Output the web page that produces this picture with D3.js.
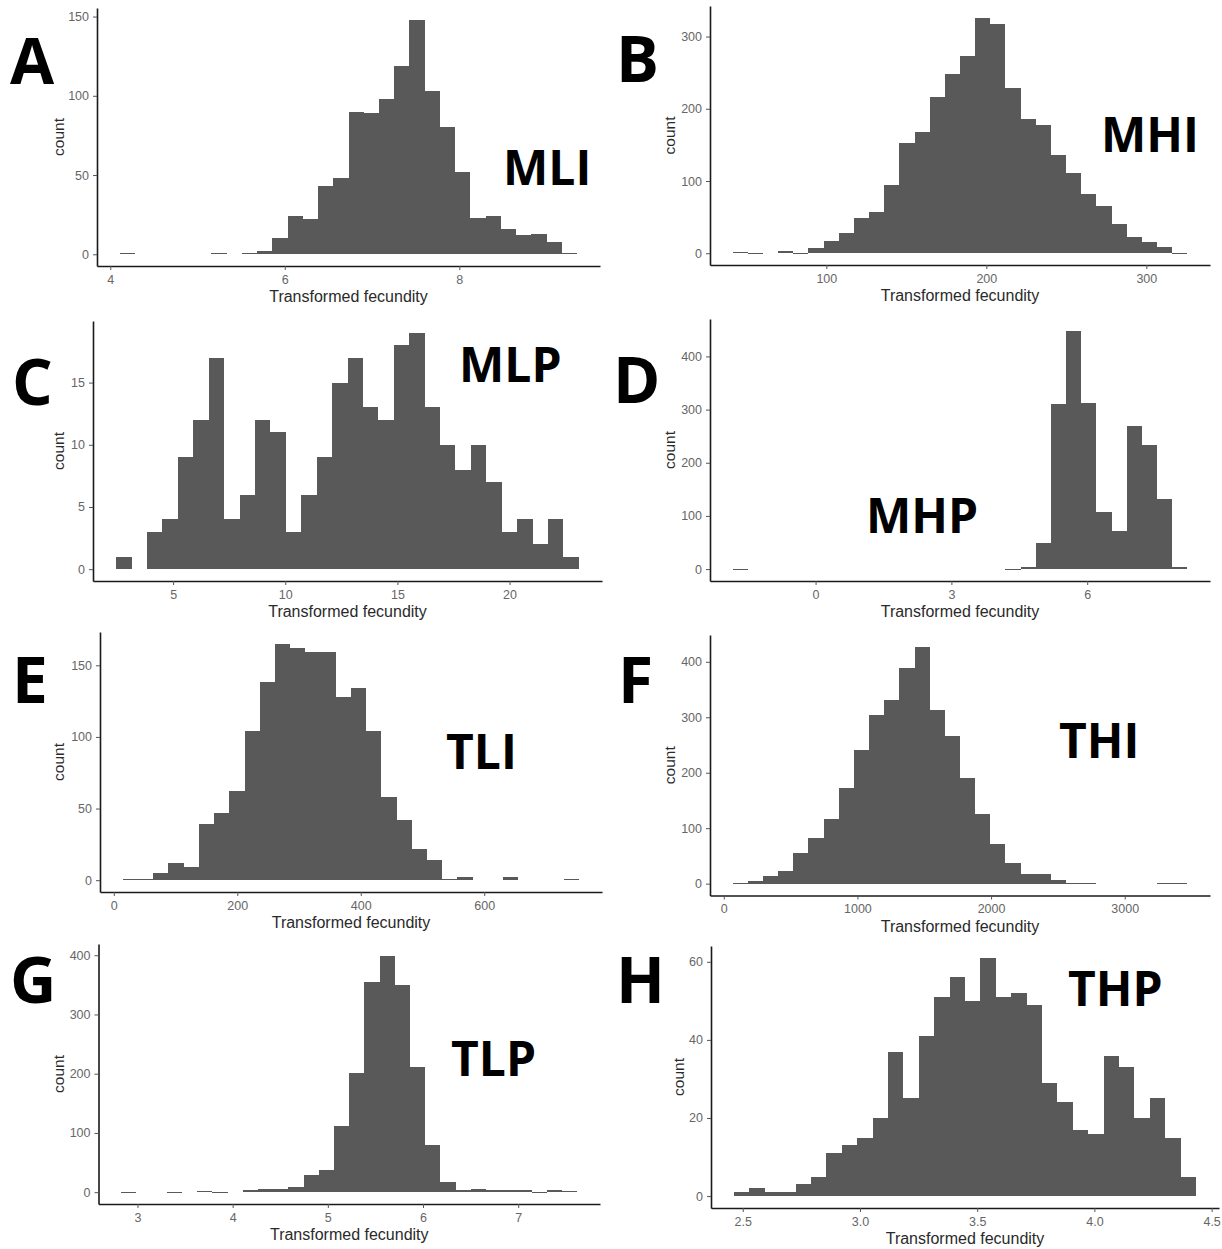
<!DOCTYPE html>
<html><head><meta charset="utf-8">
<script src="https://cdn.jsdelivr.net/npm/d3@7"></script>
<style>body{margin:0;background:#fff;} svg{display:block;}</style>
</head><body>
<svg id="chart" width="1222" height="1249"></svg>
<script>
// ---------- data ----------
const panelLetters = ["A","B","C","D","E","F","G","H"];
const panelNames = ["MLI","MHI","MLP","MHP","TLI","THI","TLP","THP"];
const xTitle = "Transformed fecundity";
const yTitle = "count";

const rangeA = [4.11, 9.35];
const countsA = [1,0,0,0,0,0,1,0,1,2,10,24,22,43,48,90,89,98,119,148,103,80,52,23,24,16,12,13,8,1];
const xTicksA = [4,6,8];
const yTicksA = [0,50,100,150];

const rangeB = [41.5, 325.6];
const countsB = [2,1,0,3,1,7,17,28,49,57,95,153,168,216,248,273,326,318,229,186,177,136,111,82,65,40,22,15,8,1];
const xTicksB = [100,200,300];
const yTicksB = [0,100,200,300];

const rangeC = [2.46, 23.09];
const countsC = [1,0,3,4,9,12,17,4,6,12,11,3,6,9,15,17,13,12,18,19,13,10,8,10,7,3,4,2,4,1];
const xTicksC = [5,10,15,20];
const yTicksC = [0,5,10,15];

const rangeD = [-1.83, 8.21];
const countsD = [1,0,0,0,0,0,0,0,0,0,0,0,0,0,0,0,0,0,1,4,50,310,448,312,107,72,270,234,131,4];
const xTicksD = [0,3,6];
const yTicksD = [0,100,200,300,400];

const rangeE = [14.6, 753.8];
const countsE = [1,1,5,12,9,39,47,62,104,138,165,162,159,159,128,134,104,58,42,22,14,1,2,0,0,2,0,0,0,1];
const xTicksE = [0,200,400,600];
const yTicksE = [0,50,100,150];

const rangeF = [67, 3468];
const countsF = [1,4,14,22,56,82,116,172,241,304,332,389,427,314,267,191,126,71,38,18,18,6,2,1,0,0,0,0,1,1];
const xTicksF = [0,1000,2000,3000];
const yTicksF = [0,100,200,300,400];

const rangeG = [2.83, 7.62];
const countsG = [1,0,0,1,0,2,1,0,3,5,5,8,29,38,111,201,355,399,350,211,79,17,3,5,4,3,3,1,4,2];
const xTicksG = [3,4,5,6,7];
const yTicksG = [0,100,200,300,400];

const rangeH = [2.463, 4.433];
const countsH = [1,2,1,1,3,5,11,13,15,20,37,25,41,51,56,50,61,51,52,49,29,24,17,16,36,33,20,25,15,5];
const xTicksH = [2.5,3.0,3.5,4.0,4.5];
const yTicksH = [0,20,40,60];

const ranges = [rangeA,rangeB,rangeC,rangeD,rangeE,rangeF,rangeG,rangeH];
const counts = [countsA,countsB,countsC,countsD,countsE,countsF,countsG,countsH];
const xTicks = [xTicksA,xTicksB,xTicksC,xTicksD,xTicksE,xTicksF,xTicksG,xTicksH];
const yTicks = [yTicksA,yTicksB,yTicksC,yTicksD,yTicksE,yTicksF,yTicksG,yTicksH];
const xFormats = ["d","d","d","d","d","d","d",".1f"];

// ---------- layout (pixels) ----------
const boxes = [
  {l:97,  r:600,  t:8,   b:266},
  {l:710, r:1210, t:6,   b:265},
  {l:93,  r:602,  t:321, b:581},
  {l:710, r:1210, t:319, b:581},
  {l:100, r:602,  t:632, b:892},
  {l:710, r:1210, t:635, b:895.5},
  {l:98.5,r:600,  t:944, b:1204},
  {l:711, r:1219, t:946, b:1208}
];
const yTitleX = [64, 674.5, 64, 674.5, 64, 674.5, 64, 684];
const letterPos = [[10,84],[616,82],[12,405],[613,403],[12,703],[618,703],[10,1003],[616,1003]];
const namePos = [[503,185],[1101,152],[459,382],[866,533],[446,769],[1059,758],[451,1076],[1068,1006]];

const font = "'Liberation Sans', Arial, sans-serif";
const svg = d3.select("#chart");
svg.append("rect").attr("width",1222).attr("height",1249).attr("fill","#fff");

counts.forEach((cs, p) => {
  const box = boxes[p];
  const [lo, hi] = ranges[p];
  const span = hi - lo;
  const w = span / cs.length;
  const maxC = d3.max(cs);
  const x = d3.scaleLinear().domain([lo - 0.05*span, hi + 0.05*span]).range([box.l, box.r]);
  const y = d3.scaleLinear().domain([-0.05*maxC, maxC*1.05]).range([box.b, box.t]);
  const g = svg.append("g");

  const bins = cs.map((c, i) => ({x0: lo + i*w, x1: lo + (i+1)*w, c})).filter(d => d.c > 0);
  g.selectAll("rect.bar").data(bins).join("rect")
    .attr("class","bar")
    .attr("x", d => x(d.x0))
    .attr("width", d => x(d.x1) - x(d.x0))
    .attr("y", d => y(d.c))
    .attr("height", d => Math.max(y(0) - y(d.c), 1))
    .attr("fill", "#595959")
    .attr("shape-rendering", "crispEdges");

  const xa = g.append("g").attr("transform", `translate(0,${box.b})`)
    .call(d3.axisBottom(x).tickValues(xTicks[p]).tickFormat(d3.format(xFormats[p])).tickSize(4).tickSizeOuter(0).tickPadding(5));
  const ya = g.append("g").attr("transform", `translate(${box.l},0)`)
    .call(d3.axisLeft(y).tickValues(yTicks[p]).tickFormat(d3.format("d")).tickSize(4).tickSizeOuter(0).tickPadding(4));
  [xa, ya].forEach(a => {
    a.select(".domain").attr("stroke","#1a1a1a").attr("stroke-width",1.6);
    a.selectAll(".tick line").attr("stroke","#555").attr("stroke-width",1);
    a.selectAll(".tick text").attr("fill","#666").style("font-family",font).style("font-size","12.5px");
  });

  g.append("text")
    .attr("x", (box.l + box.r)/2).attr("y", box.b + 36)
    .attr("text-anchor","middle")
    .style("font-family",font).style("font-size","16px")
    .attr("fill","#2a2a2a").text(xTitle);
  g.append("text")
    .attr("transform", `translate(${yTitleX[p]},${(box.t+box.b)/2}) rotate(-90)`)
    .attr("text-anchor","middle")
    .style("font-family",font).style("font-size","15.5px")
    .attr("fill","#2a2a2a").text(yTitle);

  g.append("text")
    .attr("x", letterPos[p][0]).attr("y", letterPos[p][1])
    .style("font-family","'Open Sans', sans-serif").style("font-weight","700").style("font-size","64px")
    .attr("fill","#000").text(panelLetters[p]);
  g.append("text")
    .attr("x", namePos[p][0]).attr("y", namePos[p][1])
    .style("font-family","'Open Sans', sans-serif").style("font-weight","700").style("font-size","48px")
    .attr("fill","#000").text(panelNames[p]);
});
</script>
</body></html>
